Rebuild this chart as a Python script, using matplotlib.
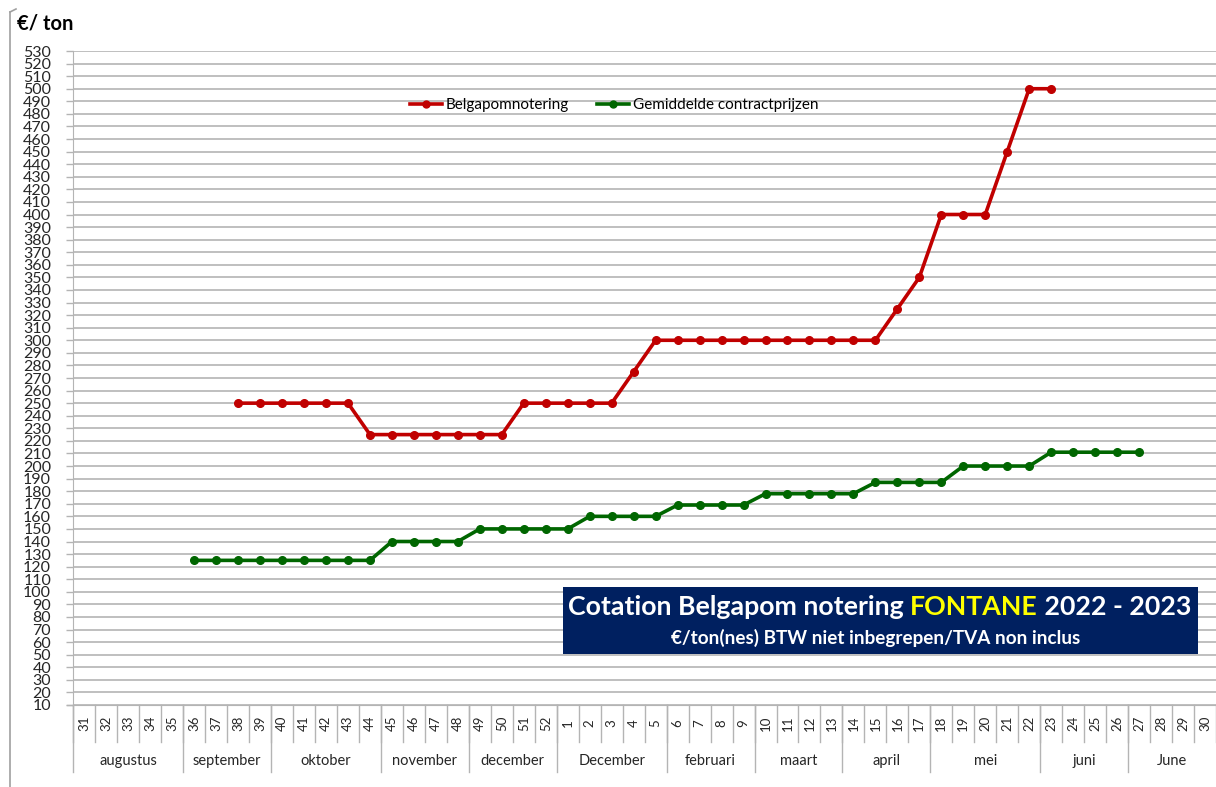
import matplotlib
matplotlib.use('Agg')
import matplotlib.pyplot as plt
from matplotlib.lines import Line2D
from matplotlib.patches import Rectangle
from matplotlib.transforms import blended_transform_factory
import numpy as np

# ---------------- data ----------------
weeks = [31, 32, 33, 34, 35, 36, 37, 38, 39, 40, 41, 42, 43, 44, 45, 46, 47, 48,
         49, 50, 51, 52, 1, 2, 3, 4, 5, 6, 7, 8, 9, 10, 11, 12, 13, 14, 15, 16,
         17, 18, 19, 20, 21, 22, 23, 24, 25, 26, 27, 28, 29, 30]
months = ['augustus', 'september', 'oktober', 'november', 'december', 'December',
          'februari', 'maart', 'april', 'mei', 'juni', 'June']
month_weeks = [5, 4, 5, 4, 4, 5, 4, 4, 4, 5, 4, 4]

nan = np.nan
belgapom = [nan, nan, nan, nan, nan, nan, nan,
            250, 250, 250, 250, 250, 250,
            225, 225, 225, 225, 225, 225, 225,
            250, 250, 250, 250, 250,
            275,
            300, 300, 300, 300, 300, 300, 300, 300, 300, 300, 300,
            325, 350,
            400, 400, 400,
            450,
            500, 500,
            nan, nan, nan, nan, nan, nan, nan]
contract = [nan, nan, nan, nan, nan,
            125, 125, 125, 125, 125, 125, 125, 125, 125,
            140, 140, 140, 140,
            150, 150, 150, 150, 150,
            160, 160, 160, 160,
            169, 169, 169, 169,
            178, 178, 178, 178, 178,
            187, 187, 187, 187,
            200, 200, 200, 200,
            211, 211, 211, 211, 211,
            nan, nan, nan]
series_names = ['Belgapomnotering', 'Gemiddelde contractprijzen']
yticks = list(range(10, 540, 10))

# ---------------- style ----------------
W, H = 1216, 787
plt.rcParams['font.family'] = ['Lato', 'DejaVu Sans']
RED = '#C00000'
GREEN = '#006600'
GRID = '#b4b4b4'
TXT = '#262626'

fig = plt.figure(figsize=(W / 100, H / 100), dpi=100)
fig.patch.set_facecolor('white')


def fx(px):
    return px / W


def fy(py):
    return 1 - py / H


ax_l, ax_r, ax_t, ax_b = 73.3, 1216, 51, 705
ax = fig.add_axes([fx(ax_l), fy(ax_b), fx(ax_r - ax_l), (ax_b - ax_t) / H])
ax.set_xlim(0, len(weeks))
ax.set_ylim(10, 530)
ax.set_yticks(yticks)
ax.set_yticklabels([str(v) for v in yticks], fontsize=11.5, color=TXT)
ax.tick_params(axis='y', length=5, width=1, color=GRID, pad=11)
ax.set_xticks([])
for s in ['top', 'right']:
    ax.spines[s].set_visible(False)
ax.spines['left'].set_color(GRID)
ax.spines['bottom'].set_color(GRID)
ax.yaxis.grid(True, color=GRID, linewidth=1.2)
ax.set_axisbelow(True)

x = np.arange(len(weeks)) + 0.5
ax.plot(x, belgapom, color=RED, lw=2.6, marker='o', ms=5.5, zorder=3)
ax.plot(x, contract, color=GREEN, lw=2.6, marker='o', ms=5.5, zorder=3)

# ---------------- category table ----------------
tr = blended_transform_factory(ax.transData, fig.transFigure)
fig.add_artist(Line2D([fx(67), fx(ax_l)], [fy(ax_b), fy(ax_b)], color=GRID, lw=1))
for i in range(len(weeks) + 1):
    ax.add_line(Line2D([i, i], [fy(705), fy(742)], transform=tr, color=GRID,
                       lw=1, clip_on=False))
for i, w in enumerate(weeks):
    ax.text(i + 0.5, fy(723), str(w), transform=tr, rotation=90, ha='center',
            va='center', fontsize=9.5, color=TXT, clip_on=False)
start = 0
for m, n in zip(months, month_weeks):
    ax.add_line(Line2D([start, start], [fy(705), fy(772)], transform=tr,
                       color=GRID, lw=1, clip_on=False))
    ax.text(start + n / 2, fy(761), m, transform=tr, ha='center', va='center',
            fontsize=10.5, color=TXT, clip_on=False)
    start += n

# ---------------- frame bits ----------------
fig.add_artist(Line2D([fx(10), fx(10)], [fy(12), fy(787)], color='#a0a0a0', lw=1.2))
fig.add_artist(Line2D([fx(10), fx(16)], [fy(12), fy(9)], color='#a0a0a0', lw=1.2))
fig.text(fx(17), fy(23), '€/ ton', fontsize=14.5, fontweight='bold', color='black',
         ha='left', va='center')

# ---------------- legend ----------------
handles = [Line2D([], [], color=RED, lw=2.6, marker='o', ms=5),
           Line2D([], [], color=GREEN, lw=2.6, marker='o', ms=5)]
fig.legend(handles, series_names, loc='center left',
           bbox_to_anchor=(fx(410), fy(105)), ncol=2, frameon=False,
           fontsize=11, handlelength=2.1, handletextpad=0.25,
           columnspacing=1.8, borderpad=0, borderaxespad=0)

# ---------------- title box ----------------
fig.add_artist(Rectangle((fx(563), fy(654)), fx(1198 - 563), (654 - 587) / H,
                         facecolor='#002060', edgecolor='none', zorder=5))


def mixed_text(x0, x1, yc, parts, fs):
    texts = [fig.text(0, fy(yc), s, color=c, fontsize=fs, fontweight='bold',
                      ha='left', va='center', zorder=6) for s, c in parts]
    fig.canvas.draw()
    r = fig.canvas.get_renderer()
    w = sum(t.get_window_extent(r).width for t in texts)
    scale = (x1 - x0) / w
    for t in texts:
        t.set_fontsize(fs * scale)
    xx = x0
    for t in texts:
        t.set_position((fx(xx), fy(yc)))
        xx += t.get_window_extent(r).width


mixed_text(568, 1193, 607, [('Cotation Belgapom notering ', 'white'),
                            ('FONTANE', '#FFFF00'),
                            (' 2022 - 2023', 'white')], 18)
mixed_text(671, 1080, 638, [('€/ton(nes) BTW niet inbegrepen/TVA non inclus', 'white')], 11)

fig.savefig('out.png', dpi=100)
